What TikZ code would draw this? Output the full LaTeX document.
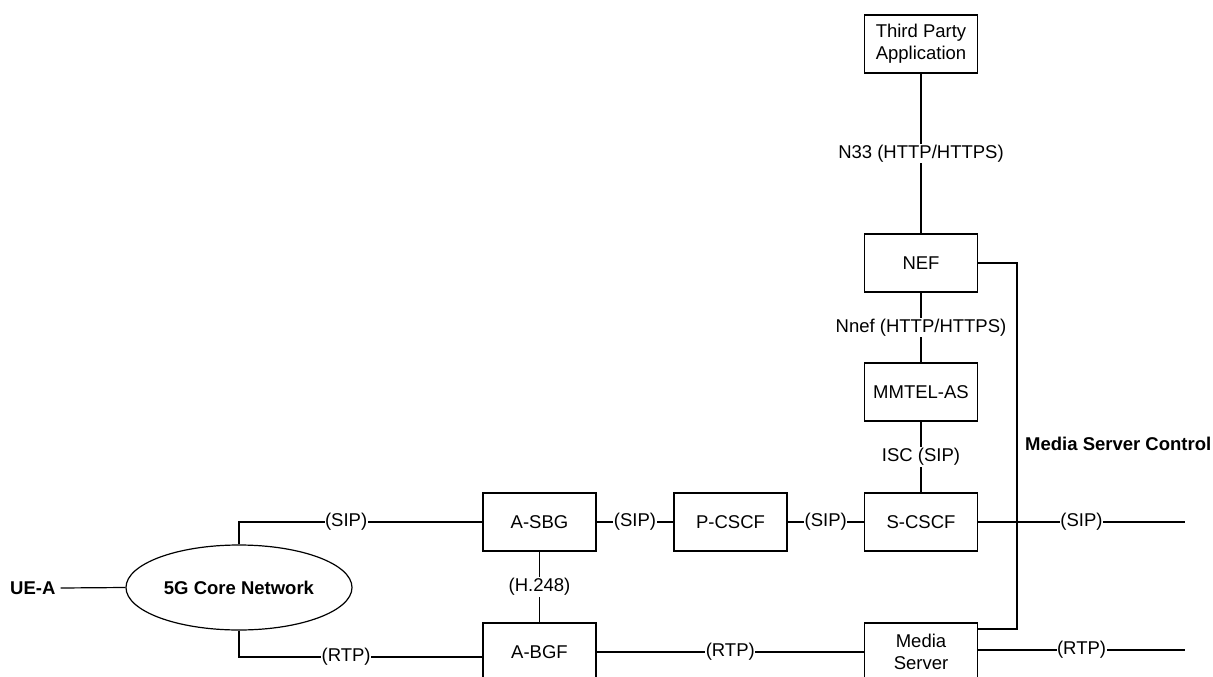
\documentclass[tikz,border=0pt]{standalone}
\usepackage{fontspec}
\setmainfont{Liberation Sans}
\usetikzlibrary{shapes.geometric}
\tikzset{
  unit/.style={draw, line width=1.2pt, minimum width=113pt, minimum height=58pt,
    inner sep=2pt, align=center, font=\fontsize{18.5}{22}\selectfont},
  lbl/.style={fill=white, inner xsep=0.5pt, inner ysep=1pt, font=\fontsize{18.5}{21}\selectfont},
  wire/.style={line width=1.2pt},
  boldtext/.style={font=\fontsize{18.5}{21}\selectfont\bfseries}
}
\begin{document}
\begin{tikzpicture}[x=1pt,y=-1pt]
\useasboundingbox (0,0) rectangle (1213,677);

% network elements
\node[unit] (tpa)   at (921,44)    {Third Party\\Application};
\node[unit] (nef)   at (921,263)   {NEF};
\node[unit] (mmtel) at (921,392)   {MMTEL-AS};
\node[unit] (scscf) at (921,522)   {S-CSCF};
\node[unit] (pcscf) at (730.5,522) {P-CSCF};
\node[unit] (asbg)  at (539.5,522) {A-SBG};
\node[unit] (abgf)  at (539.5,652) {A-BGF};
\node[unit] (msrv)  at (921,652)   {Media\\Server};
\node[ellipse, draw, wire, minimum width=226pt, minimum height=85pt, inner sep=0pt,
      boldtext] (core) at (239,587.5) {5G Core Network};
\node[boldtext, anchor=west, inner sep=0pt] (uea) at (10,588) {UE-A};
\node[boldtext, anchor=west, inner sep=0pt] (msc) at (1025,444) {Media Server Control};

% free ends and bends
\coordinate (sipend) at (1185,522);
\coordinate (rtpend) at (1185,650);
\coordinate (ctlbend) at (1017,629);

% connections
\draw[wire] ([xshift=5pt]uea.east) -- (core.west);
\draw[wire] (core.north) |- node[lbl, pos=0.72] {(SIP)} (asbg.west);
\draw[wire] (core.south) |- node[lbl, pos=0.72] {(RTP)} ([yshift=-5pt]abgf.west);
\draw[wire] (asbg) -- node[lbl] {(H.248)} (abgf);
\draw[wire] (asbg) -- node[lbl] {(SIP)} (pcscf);
\draw[wire] (pcscf) -- node[lbl] {(SIP)} (scscf);
\draw[wire] (scscf.east) -- node[lbl] {(SIP)} (sipend);
\draw[wire] (abgf) -- node[lbl] {(RTP)} (msrv);
\draw[wire] (msrv.east |- rtpend) -- node[lbl] {(RTP)} (rtpend);
\draw[wire] (tpa) -- node[lbl] {N33 (HTTP/HTTPS)} (nef);
\draw[wire] (nef) -- node[lbl] {Nnef (HTTP/HTTPS)} (mmtel);
\draw[wire] (mmtel) -- node[lbl] {ISC (SIP)} (scscf);
\draw[wire] (nef.east) -| (ctlbend) -- (msrv.east |- ctlbend);
\end{tikzpicture}
\end{document}
